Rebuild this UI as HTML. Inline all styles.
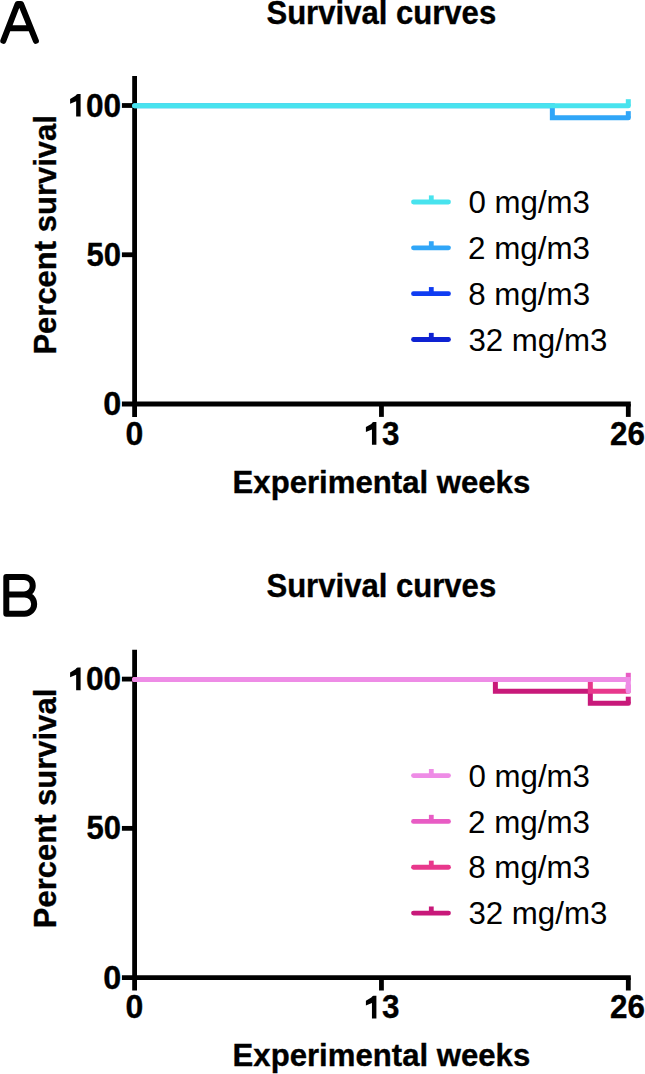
<!DOCTYPE html>
<html><head><meta charset="utf-8"><style>
html,body{margin:0;padding:0;background:#fff;overflow:hidden;}
svg{display:block;}
.b{font-family:"Liberation Sans",sans-serif;font-weight:bold;fill:#000;stroke:#000;stroke-width:0.35px;}
.r{font-family:"Liberation Sans",sans-serif;font-weight:normal;fill:#000;}
</style></head><body>
<svg width="645" height="1074" viewBox="0 0 645 1074">
<g transform="translate(0,0)">
<path d="M3.3,40.8 L17.6,4 H21 L35.9,40.8 M8.2,28.3 H30.8" stroke="#000" stroke-width="6" stroke-linecap="round" stroke-linejoin="round" fill="none"/>
<text transform="translate(266.40,23.70) scale(0.9627,1)" class="b" font-size="32.3">Survival curves</text>
<g stroke="#000" stroke-width="4.8" fill="none">
<path d="M134.6,76.1 V416.9"/>
<path d="M121.9,404.0 H630.8"/>
<path d="M121.9,105.50 H134.6"/>
<path d="M121.9,254.75 H134.6"/>
<path d="M381.45,404.0 V416.9"/>
<path d="M628.30,404.0 V416.9"/>
</g>
<path transform="translate(70.1,116.6)" d="M0,-17.7 L5.4,-20.9 Q6.5,-22.7 7.6,-22.7 L10.5,-22.7 L10.5,0 L6.05,0 L6.05,-15.4 L0,-12.9 Z" fill="#000"/>
<text transform="translate(85.94,116.70) scale(0.9582,1)" class="b" font-size="33.0">00</text>
<text transform="translate(86.44,265.60) scale(0.9411,1)" class="b" font-size="33.0">50</text>
<text transform="translate(103.30,415.10) scale(0.9825,1)" class="b" font-size="33.0">0</text>
<text transform="translate(125.42,444.60) scale(0.9697,1)" class="b" font-size="33.0">0</text>
<path transform="translate(365.9,444.8)" d="M0,-17.7 L5.4,-20.9 Q6.5,-22.7 7.6,-22.7 L10.5,-22.7 L10.5,0 L6.05,0 L6.05,-15.4 L0,-12.9 Z" fill="#000"/>
<text transform="translate(381.98,444.60) scale(0.9512,1)" class="b" font-size="33.0">3</text>
<text transform="translate(610.10,444.60) scale(0.9519,1)" class="b" font-size="33.0">26</text>
<text transform="translate(232.61,492.80) scale(0.9730,1)" class="b" font-size="32">Experimental weeks</text>
<text transform="translate(55.90,354.58) rotate(-90) scale(0.9685,1)" class="b" font-size="32">Percent survival</text>
<path d="M134.60,105.80 H552.35 V117.74 H628.30" stroke="#30A6F8" stroke-width="5.0" stroke-linecap="round" stroke-linejoin="miter" fill="none"/>
<path d="M628.30,117.74 V111.14" stroke="#30A6F8" stroke-width="5.0" fill="none"/>
<path d="M134.60,105.80 H628.30" stroke="#48E3EE" stroke-width="5.0" stroke-linecap="round" stroke-linejoin="miter" fill="none"/>
<path d="M628.30,105.80 V99.20" stroke="#48E3EE" stroke-width="5.0" fill="none"/>
<path d="M413.5,202.00 H448.5" stroke="#48E3EE" stroke-width="4.8" stroke-linecap="round" fill="none"/>
<path d="M431.3,202.00 V195.40" stroke="#48E3EE" stroke-width="4.8" fill="none"/>
<text transform="translate(468.38,213.20) scale(0.9776,1)" class="r" font-size="32.0">0 mg/m3</text>
<path d="M413.5,247.83 H448.5" stroke="#30A6F8" stroke-width="4.8" stroke-linecap="round" fill="none"/>
<path d="M431.3,247.83 V241.23" stroke="#30A6F8" stroke-width="4.8" fill="none"/>
<text transform="translate(468.03,259.03) scale(0.9805,1)" class="r" font-size="32.0">2 mg/m3</text>
<path d="M413.5,293.66 H448.5" stroke="#0F3CF2" stroke-width="4.8" stroke-linecap="round" fill="none"/>
<path d="M431.3,293.66 V287.06" stroke="#0F3CF2" stroke-width="4.8" fill="none"/>
<text transform="translate(468.25,304.86) scale(0.9787,1)" class="r" font-size="32.0">8 mg/m3</text>
<path d="M413.5,339.49 H448.5" stroke="#0E22D2" stroke-width="4.8" stroke-linecap="round" fill="none"/>
<path d="M431.3,339.49 V332.89" stroke="#0E22D2" stroke-width="4.8" fill="none"/>
<text transform="translate(468.41,350.69) scale(0.9767,1)" class="r" font-size="32.0">32 mg/m3</text>
</g>
<g transform="translate(0,573.6)">
<path d="M6.3,3.3 V40.1 M6.3,3.3 H24 A8.75,8.75 0 0 1 24,20.8 H6.3 M6.3,20.8 H24.5 A9.65,9.65 0 0 1 24.5,40.1 H6.3" stroke="#000" stroke-width="6" stroke-linecap="round" stroke-linejoin="round" fill="none"/>
<text transform="translate(266.40,23.70) scale(0.9627,1)" class="b" font-size="32.3">Survival curves</text>
<g stroke="#000" stroke-width="4.8" fill="none">
<path d="M134.6,76.1 V416.9"/>
<path d="M121.9,404.0 H630.8"/>
<path d="M121.9,105.50 H134.6"/>
<path d="M121.9,254.75 H134.6"/>
<path d="M381.45,404.0 V416.9"/>
<path d="M628.30,404.0 V416.9"/>
</g>
<path transform="translate(70.1,116.6)" d="M0,-17.7 L5.4,-20.9 Q6.5,-22.7 7.6,-22.7 L10.5,-22.7 L10.5,0 L6.05,0 L6.05,-15.4 L0,-12.9 Z" fill="#000"/>
<text transform="translate(85.94,116.70) scale(0.9582,1)" class="b" font-size="33.0">00</text>
<text transform="translate(86.44,265.60) scale(0.9411,1)" class="b" font-size="33.0">50</text>
<text transform="translate(103.30,415.10) scale(0.9825,1)" class="b" font-size="33.0">0</text>
<text transform="translate(125.42,444.60) scale(0.9697,1)" class="b" font-size="33.0">0</text>
<path transform="translate(365.9,444.8)" d="M0,-17.7 L5.4,-20.9 Q6.5,-22.7 7.6,-22.7 L10.5,-22.7 L10.5,0 L6.05,0 L6.05,-15.4 L0,-12.9 Z" fill="#000"/>
<text transform="translate(381.98,444.60) scale(0.9512,1)" class="b" font-size="33.0">3</text>
<text transform="translate(610.10,444.60) scale(0.9519,1)" class="b" font-size="33.0">26</text>
<text transform="translate(232.61,492.80) scale(0.9730,1)" class="b" font-size="32">Experimental weeks</text>
<text transform="translate(55.90,354.58) rotate(-90) scale(0.9685,1)" class="b" font-size="32">Percent survival</text>
<path d="M134.60,105.80 H495.38 V117.74 H590.32 V129.68 H628.30" stroke="#C8197A" stroke-width="5.0" stroke-linecap="round" stroke-linejoin="miter" fill="none"/>
<path d="M628.30,129.68 V123.08" stroke="#C8197A" stroke-width="5.0" fill="none"/>
<path d="M134.60,105.80 H590.32 V117.74 H628.30" stroke="#E8388C" stroke-width="5.0" stroke-linecap="round" stroke-linejoin="miter" fill="none"/>
<path d="M628.30,117.74 V111.14" stroke="#E8388C" stroke-width="5.0" fill="none"/>
<path d="M134.60,105.80 H628.30" stroke="#E85CC4" stroke-width="5.0" stroke-linecap="round" stroke-linejoin="miter" fill="none"/>
<path d="M628.30,105.80 V99.20" stroke="#E85CC4" stroke-width="5.0" fill="none"/>
<path d="M134.60,105.80 H628.30 V117.74" stroke="#EE8CE6" stroke-width="5.0" stroke-linecap="round" stroke-linejoin="miter" fill="none"/>
<path d="M628.30,117.74 V111.14" stroke="#EE8CE6" stroke-width="5.0" fill="none"/>
<path d="M413.5,202.00 H448.5" stroke="#EE8CE6" stroke-width="4.8" stroke-linecap="round" fill="none"/>
<path d="M431.3,202.00 V195.40" stroke="#EE8CE6" stroke-width="4.8" fill="none"/>
<text transform="translate(468.38,213.20) scale(0.9776,1)" class="r" font-size="32.0">0 mg/m3</text>
<path d="M413.5,247.83 H448.5" stroke="#E85CC4" stroke-width="4.8" stroke-linecap="round" fill="none"/>
<path d="M431.3,247.83 V241.23" stroke="#E85CC4" stroke-width="4.8" fill="none"/>
<text transform="translate(468.03,259.03) scale(0.9805,1)" class="r" font-size="32.0">2 mg/m3</text>
<path d="M413.5,293.66 H448.5" stroke="#E8388C" stroke-width="4.8" stroke-linecap="round" fill="none"/>
<path d="M431.3,293.66 V287.06" stroke="#E8388C" stroke-width="4.8" fill="none"/>
<text transform="translate(468.25,304.86) scale(0.9787,1)" class="r" font-size="32.0">8 mg/m3</text>
<path d="M413.5,339.49 H448.5" stroke="#C8197A" stroke-width="4.8" stroke-linecap="round" fill="none"/>
<path d="M431.3,339.49 V332.89" stroke="#C8197A" stroke-width="4.8" fill="none"/>
<text transform="translate(468.41,350.69) scale(0.9767,1)" class="r" font-size="32.0">32 mg/m3</text>
</g>
</svg>
</body></html>
